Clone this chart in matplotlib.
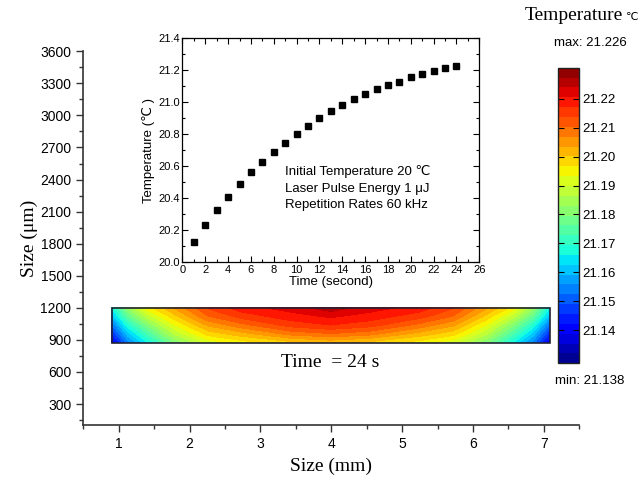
import numpy as np
import matplotlib
matplotlib.use("Agg")
import matplotlib.pyplot as plt
from matplotlib.ticker import MultipleLocator, FixedLocator, FormatStrFormatter
from matplotlib.patches import Rectangle

# temperature rise at the spot centre vs time
time_s = [1, 2, 3, 4, 5, 6, 7, 8, 9, 10, 11, 12, 13, 14, 15, 16, 17, 18, 19, 20, 21, 22, 23, 24]
temp_c = [20.129, 20.233, 20.329, 20.410, 20.489, 20.562, 20.627, 20.691, 20.748, 20.802,
          20.854, 20.900, 20.946, 20.981, 21.019, 21.050, 21.081, 21.108, 21.130, 21.156,
          21.177, 21.196, 21.212, 21.226]

# cross-section temperature field at t = 24 s (x in mm, y in um), rows bottom -> top
field_x = [0.90, 1.13, 1.41, 1.79, 2.26, 2.73, 3.43, 3.99, 4.55, 5.25, 5.72, 6.19, 6.57, 6.85, 7.08]
field_y = [875, 956, 1037, 1119, 1200]
row_875 = [21.138, 21.154, 21.166, 21.180, 21.191, 21.195, 21.199, 21.201,
           21.199, 21.195, 21.191, 21.180, 21.166, 21.154, 21.138]
row_956 = [21.145, 21.161, 21.173, 21.187, 21.198, 21.202, 21.208, 21.210,
           21.208, 21.202, 21.198, 21.187, 21.173, 21.161, 21.145]
row_1037 = [21.152, 21.168, 21.180, 21.193, 21.204, 21.209, 21.215, 21.217,
            21.215, 21.209, 21.204, 21.193, 21.180, 21.168, 21.152]
row_1119 = [21.160, 21.176, 21.188, 21.199, 21.210, 21.215, 21.219, 21.221,
            21.219, 21.215, 21.210, 21.199, 21.188, 21.176, 21.160]
row_1200 = [21.166, 21.183, 21.195, 21.204, 21.214, 21.219, 21.222, 21.226,
            21.222, 21.219, 21.214, 21.204, 21.195, 21.183, 21.166]

t_min, t_max = 21.138, 21.226
bar_lo, bar_hi = 21.1286, 21.2307
bar_ticks = [21.14, 21.15, 21.16, 21.17, 21.18, 21.19, 21.20, 21.21, 21.22]

W, H = 643, 482
fig = plt.figure(figsize=(W / 100, H / 100), dpi=100)

sans = ["Liberation Sans", "DejaVu Sans"]
serif = ["Liberation Serif", "DejaVu Serif"]

def box(l, t, r, b):
    return [l / W, 1 - b / H, (r - l) / W, (b - t) / H]

# main axes
ax = fig.add_axes(box(83.3, 51.3, 579.3, 425.4))
ax.set_xlim(0.5, 7.5)
ax.set_ylim(100, 3600)
ax.spines["top"].set_visible(False)
ax.spines["right"].set_visible(False)
for s in ("left", "bottom"):
    ax.spines[s].set_color("#333333")
    ax.spines[s].set_linewidth(1.2)
ax.xaxis.set_major_locator(FixedLocator([1, 2, 3, 4, 5, 6, 7]))
ax.xaxis.set_minor_locator(MultipleLocator(0.5))
ax.yaxis.set_major_locator(FixedLocator(np.arange(300, 3601, 300)))
ax.yaxis.set_minor_locator(MultipleLocator(150))
ax.tick_params(which="major", direction="out", length=5, width=1, color="#333333",
               labelsize=10)
ax.tick_params(which="minor", direction="out", length=3, width=1, color="#333333")
for lab in ax.get_xticklabels() + ax.get_yticklabels():
    lab.set_family(sans)
ax.set_xlabel("Size (mm)", family=serif, fontsize=14, labelpad=5)
ax.set_ylabel("Size (μm)", family=serif, fontsize=14, labelpad=2)

X, Y = np.meshgrid(field_x, field_y)
Z = np.array([row_875, row_956, row_1037, row_1119, row_1200])
levels = np.linspace(bar_lo, bar_hi, 31)
cf = ax.contourf(X, Y, Z, levels=levels, cmap="jet")
ax.add_patch(Rectangle((field_x[0], field_y[0]), field_x[-1] - field_x[0],
                       field_y[-1] - field_y[0], fill=False, ec="#222233", lw=1.2))
ax.text(3.98, 693, "Time  = 24 s", family=serif, fontsize=14, ha="center", va="center")

# inset: temperature vs time
ins = fig.add_axes(box(182.5, 38.3, 479.3, 262.3))
ins.plot(time_s, temp_c, "s", color="black", markersize=3.8)
ins.set_xlim(0, 26)
ins.set_ylim(20.0, 21.4)
ins.xaxis.set_major_locator(MultipleLocator(2))
ins.xaxis.set_minor_locator(MultipleLocator(1))
ins.yaxis.set_major_locator(MultipleLocator(0.2))
ins.yaxis.set_minor_locator(MultipleLocator(0.1))
ins.yaxis.set_major_formatter(FormatStrFormatter("%.1f"))
ins.tick_params(which="both", direction="in", top=True, right=True, labelsize=8,
                width=0.8, pad=2)
ins.tick_params(which="major", length=4)
ins.tick_params(which="minor", length=2)
for s in ins.spines.values():
    s.set_linewidth(0.9)
for lab in ins.get_xticklabels() + ins.get_yticklabels():
    lab.set_family(sans)
ins.set_xlabel("Time (second)", family=sans, fontsize=9.5, labelpad=1)
ins.set_ylabel("Temperature (℃ )", family=sans, fontsize=9.5, labelpad=2)
for yy, txt in zip([20.566, 20.457, 20.358],
                   ["Initial Temperature 20 ℃", "Laser Pulse Energy 1 μJ",
                    "Repetition Rates 60 kHz"]):
    ins.text(9, yy, txt, family=sans, fontsize=9.5, va="center")

# colour legend
cax = fig.add_axes(box(558.3, 67.7, 579.3, 363.3))
cb = fig.colorbar(cf, cax=cax, ticks=bar_ticks)
cb.outline.set_linewidth(1.0)
cb.outline.set_edgecolor("#222222")
cax.set_yticklabels(["%.2f" % v for v in bar_ticks])
cax.tick_params(direction="in", left=True, right=True, length=4, width=0.8,
                labelsize=9.5, pad=2)
cax.minorticks_off()
for lab in cax.get_yticklabels():
    lab.set_family(sans)

fig.text(623 / W, 1 - 16 / H, "Temperature", family=serif, fontsize=14,
         ha="right", va="center")
fig.text(626 / W, 1 - 17 / H, "℃", family=sans, fontsize=8, ha="left", va="center")
fig.text(590 / W, 1 - 43 / H, "max: %.3f" % t_max, family=sans, fontsize=9.5,
         ha="center", va="center")
fig.text(590 / W, 1 - 381 / H, "min: %.3f" % t_min, family=sans, fontsize=9.5,
         ha="center", va="center")

fig.savefig("out.png", dpi=100)
